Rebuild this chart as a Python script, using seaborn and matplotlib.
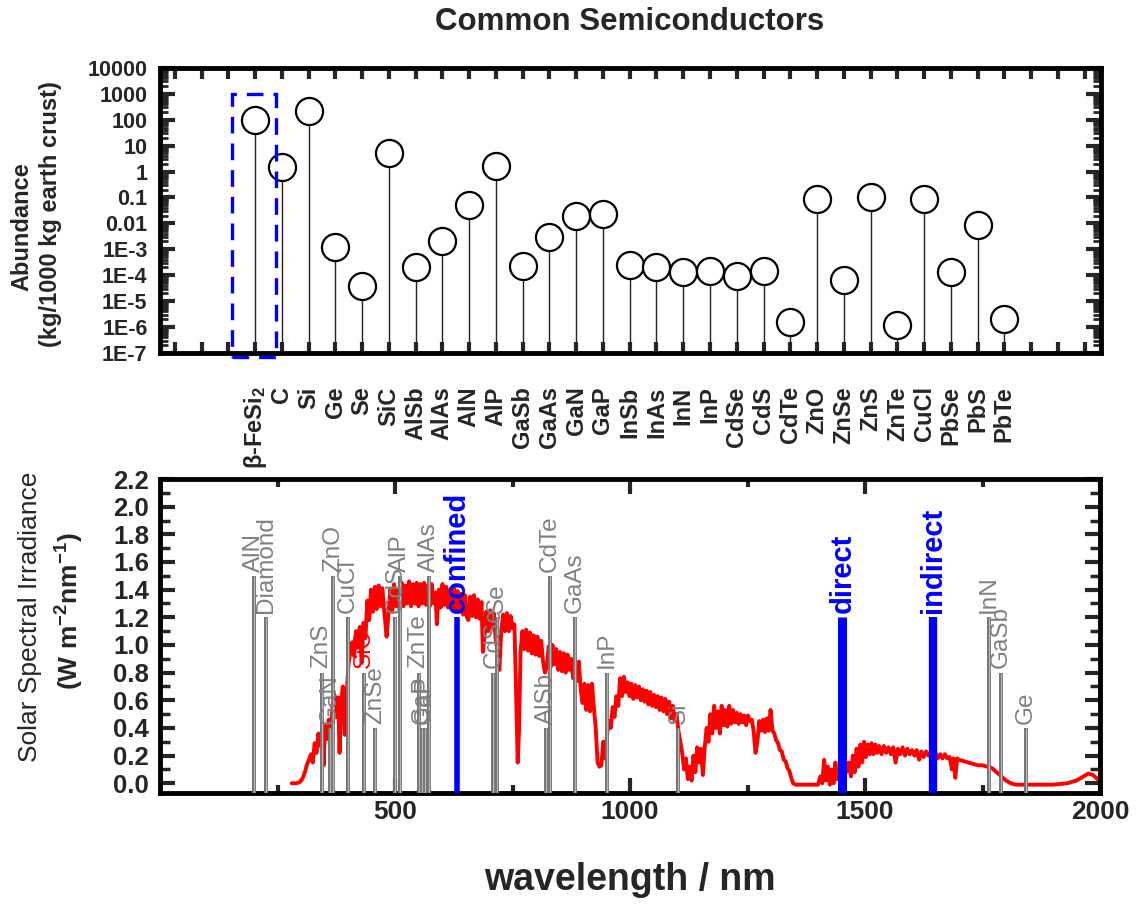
import numpy as np
import matplotlib
matplotlib.use("Agg")
import matplotlib.pyplot as plt
import seaborn as sns
from matplotlib.patches import Rectangle
from matplotlib.ticker import MultipleLocator, LogLocator, NullFormatter, FormatStrFormatter, FixedLocator
from matplotlib.transforms import ScaledTranslation

# ---------------- crustal abundance of common semiconductors ----------------
materials = ["β-FeSi$_2$", "C", "Si", "Ge", "Se", "SiC", "AlSb", "AlAs", "AlN", "AlP",
             "GaSb", "GaAs", "GaN", "GaP", "InSb", "InAs", "InN", "InP", "CdSe", "CdS",
             "CdTe", "ZnO", "ZnSe", "ZnS", "ZnTe", "CuCl", "PbSe", "PbS", "PbTe"]
abundance = [100, 1.5, 220, 1.2e-3, 4e-5, 5.0, 2e-4, 2e-3, 0.05, 1.6,
             2.3e-4, 2.9e-3, 0.019, 0.022, 2.4e-4, 2e-4, 1.3e-4, 1.5e-4, 9e-5, 1.4e-4,
             1.5e-6, 0.085, 6.8e-5, 0.1, 1.2e-6, 0.09, 1.3e-4, 9e-3, 2.1e-6]
abundance_ticks = [1e-7, 1e-6, 1e-5, 1e-4, 1e-3, 1e-2, 1e-1, 1, 10, 100, 1000, 10000]
abundance_ticklabels = ["1E-7", "1E-6", "1E-5", "1E-4", "1E-3", "0.01", "0.1", "1",
                        "10", "100", "1000", "10000"]

# ---------------- band-gap wavelengths ----------------
gap_names = ["AlN", "Diamond", "ZnS", "GaN", "ZnO", "CuCl", "SiC", "ZnSe", "CdS", "AlP",
             "ZnTe", "GaP", "GaP", "AlAs", "CdSe", "Se", "AlSb", "CdTe", "GaAs", "InP",
             "Si", "InN", "GaSb", "Ge"]
gap_nm = [199, 226, 344, 362, 369, 399, 433, 457, 501, 510,
          550, 557, 563, 573, 709, 716, 821, 830, 883, 950,
          1103, 1764, 1789, 1843]
gap_height = [1.5, 1.2, 0.8, 0.4, 1.5, 1.2, 0.8, 0.4, 1.2, 1.5,
              0.8, 0.4, 0.4, 1.5, 0.8, 1.2, 0.4, 1.5, 1.2, 0.8,
              0.4, 1.2, 0.8, 0.4]

fesi_names = ["confined", "direct", "indirect"]
fesi_nm = [631, 1452, 1645]
fesi_height = [1.2, 1.2, 1.2]

# ---------------- solar spectral irradiance ----------------
sun_nm = [280, 290, 298, 304, 309, 313, 317, 321, 325, 329, 333, 337, 341, 345, 348, 351,
          355, 359, 363, 367, 371, 375, 379, 382, 385, 389, 393, 397, 401, 405, 409, 413,
          417, 421, 425, 429, 433, 437, 441, 445, 449, 453, 457, 461, 465, 469, 473, 477,
          482, 486, 490, 494, 498, 502, 506, 510, 514, 518, 522, 526, 530, 534, 538, 542,
          546, 550, 554, 558, 562, 566, 570, 574, 578, 582, 586, 589, 593, 597, 601, 605,
          609, 613, 617, 621, 625, 629, 633, 637, 641, 645, 649, 653, 656, 660, 664, 668,
          672, 676, 680, 684, 687, 690, 694, 698, 702, 706, 710, 714, 718, 722, 726, 730,
          734, 738, 742, 746, 750, 754, 758, 761, 764, 767, 771, 775, 779, 783, 787, 791,
          795, 799, 803, 807, 811, 815, 819, 823, 827, 831, 835, 839, 843, 847, 851, 855,
          859, 863, 867, 871, 875, 879, 883, 887, 891, 895, 899, 903, 907, 911, 915, 919,
          923, 927, 931, 935, 939, 943, 947, 951, 955, 959, 963, 967, 971, 975, 979, 983,
          987, 991, 995, 999, 1003, 1007, 1011, 1015, 1019, 1023, 1027, 1031, 1035, 1039,
          1043, 1047, 1051, 1055, 1059, 1063, 1067, 1071, 1075, 1079, 1083, 1087, 1091,
          1095, 1099, 1103, 1107, 1111, 1115, 1119, 1123, 1127, 1131, 1135, 1139, 1143,
          1147, 1151, 1155, 1159, 1163, 1167, 1171, 1175, 1179, 1183, 1187, 1191, 1195,
          1199, 1203, 1207, 1211, 1215, 1219, 1223, 1227, 1231, 1235, 1239, 1243, 1247,
          1251, 1255, 1259, 1263, 1267, 1271, 1275, 1279, 1283, 1287, 1291, 1295, 1299,
          1303, 1307, 1311, 1315, 1319, 1323, 1327, 1331, 1335, 1339, 1343, 1347, 1352,
          1400, 1405, 1409, 1413, 1417, 1421, 1425, 1429, 1433, 1437, 1441, 1446, 1450,
          1460, 1465, 1470, 1474, 1478, 1482, 1486, 1490, 1494, 1498, 1502, 1506, 1510,
          1514, 1518, 1522, 1526, 1530, 1535, 1540, 1545, 1550, 1555, 1560, 1565, 1570,
          1575, 1580, 1585, 1590, 1595, 1600, 1605, 1610, 1615, 1620, 1625, 1630, 1635,
          1640, 1645, 1650, 1655, 1660, 1665, 1670, 1675, 1680, 1685, 1688, 1692, 1696,
          1700, 1710, 1720, 1730, 1740, 1750, 1760, 1770, 1780, 1790, 1800, 1810, 1820,
          1900, 1930, 1950, 1965, 1975, 1985, 1995, 2000]
sun_irr = [0.00, 0.00, 0.01, 0.04, 0.09, 0.14, 0.17, 0.21, 0.15, 0.29, 0.22, 0.36, 0.27, 0.38, 0.13, 0.42,
           0.32, 0.46, 0.36, 0.56, 0.64, 0.48, 0.62, 0.22, 0.58, 0.70, 0.35, 0.64, 0.86, 0.95, 1.02, 0.92,
           1.10, 0.98, 1.13, 0.87, 1.16, 1.05, 1.32, 1.18, 1.40, 1.24, 1.42, 1.26, 1.43, 1.28, 1.41, 1.25,
           1.06, 1.22, 1.40, 1.24, 1.44, 1.28, 1.40, 1.24, 1.45, 1.28, 1.43, 1.30, 1.46, 1.28, 1.44, 1.30,
           1.45, 1.28, 1.44, 1.30, 1.45, 1.29, 1.43, 1.28, 1.44, 1.30, 1.38, 1.15, 1.40, 1.27, 1.44, 1.29,
           1.42, 1.27, 1.40, 1.26, 1.41, 1.25, 1.39, 1.24, 1.37, 1.22, 1.36, 1.20, 1.18, 1.35, 1.21, 1.36,
           1.20, 1.33, 1.19, 1.31, 0.95, 1.05, 1.24, 1.10, 1.25, 1.12, 1.23, 1.05, 0.95, 0.82, 1.10, 1.22,
           1.10, 1.23, 1.10, 1.21, 1.12, 1.15, 0.60, 0.15, 0.40, 0.95, 1.10, 0.97, 1.11, 0.96, 1.09, 0.94,
           1.07, 0.93, 1.06, 0.92, 1.03, 0.88, 0.80, 0.84, 0.99, 0.84, 1.00, 0.86, 0.97, 0.82, 0.95, 0.81,
           0.94, 0.80, 0.93, 0.82, 0.90, 0.76, 0.87, 0.74, 0.88, 0.68, 0.58, 0.72, 0.53, 0.71, 0.52, 0.72,
           0.55, 0.40, 0.15, 0.12, 0.13, 0.30, 0.18, 0.35, 0.45, 0.40, 0.55, 0.48, 0.63, 0.56, 0.76, 0.63,
           0.77, 0.66, 0.73, 0.63, 0.72, 0.61, 0.71, 0.62, 0.70, 0.60, 0.68, 0.59, 0.67, 0.57,
           0.66, 0.56, 0.64, 0.55, 0.63, 0.53, 0.62, 0.52, 0.61, 0.50, 0.59, 0.47, 0.56,
           0.45, 0.50, 0.38, 0.30, 0.22, 0.10, 0.18, 0.03, 0.12, 0.02, 0.20, 0.08, 0.26,
           0.15, 0.25, 0.06, 0.26, 0.40, 0.30, 0.50, 0.36, 0.56, 0.40, 0.52, 0.36, 0.56,
           0.42, 0.53, 0.41, 0.56, 0.43, 0.53, 0.44, 0.51, 0.43, 0.50, 0.44, 0.49, 0.42,
           0.49, 0.45, 0.46, 0.38, 0.22, 0.30, 0.45, 0.38, 0.46, 0.37, 0.47, 0.38, 0.53,
           0.38, 0.36, 0.31, 0.29, 0.24, 0.23, 0.17, 0.16, 0.11, 0.09, 0.04, 0.00, -0.01,
           -0.01, 0.05, 0.00, 0.17, 0.02, 0.12, -0.01, 0.10, 0.00, 0.15, 0.03, 0.10, 0.05,
           0.08, 0.15, 0.05, 0.20, 0.08, 0.25, 0.12, 0.28, 0.15, 0.30, 0.19, 0.28, 0.21,
           0.29, 0.21, 0.28, 0.22, 0.27, 0.21, 0.27, 0.22, 0.26, 0.21, 0.26, 0.15, 0.25,
           0.21, 0.26, 0.20, 0.25, 0.21, 0.24, 0.20, 0.24, 0.17, 0.23, 0.19, 0.23, 0.20,
           0.23, 0.19, 0.22, 0.18, 0.21, 0.18, 0.21, 0.18, 0.19, 0.10, 0.18, 0.04, 0.18,
           0.17, 0.16, 0.15, 0.14, 0.13, 0.13, 0.12, 0.11, 0.08, 0.05, 0.02, 0.00, -0.01,
           -0.01, 0.00, 0.02, 0.05, 0.07, 0.06, 0.03, 0.02]

# ---------------- styling ----------------
sns.set_style("white")
plt.rcParams["font.family"] = ["Liberation Sans", "DejaVu Sans"]
plt.rcParams["font.weight"] = "bold"
plt.rcParams["mathtext.default"] = "regular"

GREY = "#808080"
BLUE = "#0000ff"
SPINE_W = 3.5

fig = plt.figure(figsize=(11.43, 9.05), dpi=100)

# ---------------- upper panel: abundance lollipops ----------------
ax1 = fig.add_axes([0.140, 0.610, 0.823, 0.315])
first_slot = 3
pos = first_slot + np.arange(len(materials))
ax1.set_yscale("log")
ax1.vlines(pos, abundance_ticks[0], abundance, color="#222222", lw=1.0, zorder=2)
sns.scatterplot(x=pos, y=abundance, ax=ax1, s=380, color="white", edgecolor="black",
                linewidth=1.6, zorder=3, legend=False)
ax1.set_ylim(abundance_ticks[0], abundance_ticks[-1])
ax1.set_xlim(-0.55, 34.6)

n_slots = 35
slot_labels = [""] * n_slots
for p, name in zip(pos, materials):
    slot_labels[p] = name
ax1.set_xticks(np.arange(n_slots))
ax1.set_xticklabels(slot_labels, rotation=90, fontsize=17, fontweight="bold", va="top")
for lbl in ax1.get_xticklabels():
    lbl.set_transform(lbl.get_transform() + ScaledTranslation(-4 / 72, 0, fig.dpi_scale_trans))
ax1.tick_params(axis="x", which="major", direction="in", length=8, width=3,
                top=True, bottom=True, pad=24)

ax1.set_yticks(abundance_ticks)
ax1.set_yticklabels(abundance_ticklabels, fontsize=15.5, fontweight="bold")
ax1.yaxis.set_minor_locator(LogLocator(base=10, subs=np.arange(2, 10), numticks=100))
ax1.yaxis.set_minor_formatter(NullFormatter())
ax1.tick_params(axis="y", which="major", direction="in", length=11, width=3,
                left=True, right=True, pad=9)
ax1.tick_params(axis="y", which="minor", direction="in", length=6, width=2,
                left=True, right=True)
ax1.set_xlabel("")
ax1.set_ylabel("")
for sp in ax1.spines.values():
    sp.set_linewidth(SPINE_W)
    sp.set_color("black")

# dashed box highlighting beta-FeSi2
box = Rectangle((2.15, 7e-8), 1.65, 1000 - 7e-8, fill=False, edgecolor=BLUE, lw=2.4,
                ls=(0, (5, 3)), clip_on=False, zorder=5)
ax1.add_patch(box)

fig.text(0.0192, 0.750, "Abundance", rotation=90, ha="center", va="center",
         fontsize=17, fontweight="bold")
fig.text(0.0446, 0.764, "(kg/1000 kg earth crust)", rotation=90, ha="center", va="center",
         fontsize=17, fontweight="bold")
fig.text(0.551, 0.976, "Common Semiconductors", ha="center", va="center",
         fontsize=22.5, fontweight="bold")

# ---------------- lower panel: solar spectrum with band gaps ----------------
ax2 = fig.add_axes([0.140, 0.1238, 0.8224, 0.3469])
ax2.set_xlim(0, 2000)
ax2.set_ylim(-0.07, 2.2)
ybot = ax2.get_ylim()[0]

sns.lineplot(x=sun_nm, y=sun_irr, ax=ax2, color="red", lw=2.8, estimator=None,
             sort=False, zorder=2)

for name, w, h in zip(gap_names, gap_nm, gap_height):
    ax2.vlines(w, ybot, h, color="#6f6f6f", lw=2.8, zorder=3)
    ax2.vlines(w, ybot, h, color="#b8b8b8", lw=0.9, zorder=3.1)
    col = "red" if name == "SiC" else GREY
    ax2.annotate(name, (w, h), xytext=(0, 3), textcoords="offset points", rotation=90,
                 ha="center", va="bottom", fontsize=17.5, fontweight="normal",
                 color=col, zorder=4)

fesi_lw = {"confined": 4.0, "direct": 6.5, "indirect": 6.0}
for name, w, h in zip(fesi_names, fesi_nm, fesi_height):
    ax2.vlines(w, ybot, h, color=BLUE, lw=fesi_lw[name], zorder=3.5)
    ax2.annotate(name, (w, h), xytext=(0, 3), textcoords="offset points", rotation=90,
                 ha="center", va="bottom", fontsize=21, fontweight="bold",
                 color=BLUE, zorder=4)

ax2.xaxis.set_major_locator(MultipleLocator(500))
ax2.xaxis.set_minor_locator(FixedLocator([250, 750, 1250, 1750]))
ax2.yaxis.set_major_locator(MultipleLocator(0.2))
ax2.yaxis.set_minor_locator(MultipleLocator(0.1))
ax2.yaxis.set_major_formatter(FormatStrFormatter("%.1f"))
ax2.set_xticks([500, 1000, 1500, 2000])
ax2.tick_params(axis="x", which="major", direction="in", length=11, width=3,
                top=True, bottom=True, labelsize=19, pad=5)
ax2.tick_params(axis="x", which="minor", direction="in", length=6, width=3,
                top=True, bottom=True)
ax2.tick_params(axis="y", which="major", direction="in", length=11, width=3,
                left=True, right=True, labelsize=18.5, pad=8)
ax2.tick_params(axis="y", which="minor", direction="in", length=7, width=2.5,
                left=True, right=True)
for lbl in ax2.get_xticklabels() + ax2.get_yticklabels():
    lbl.set_fontweight("bold")
ax2.set_xlabel("")
ax2.set_ylabel("")
for sp in ax2.spines.values():
    sp.set_linewidth(SPINE_W)
    sp.set_color("black")

fig.text(0.0262, 0.3188, "Solar Spectral Irradiance", rotation=90, ha="center",
         va="center", fontsize=19, fontweight="normal")
fig.text(0.0612, 0.3243, "(W m$^{-2}$nm$^{-1}$)", rotation=90, ha="center",
         va="center", fontsize=19, fontweight="bold")
fig.text(0.551, 0.0276, "wavelength / nm", ha="center", va="center",
         fontsize=27, fontweight="bold")

fig.savefig("out.png", dpi=100)
